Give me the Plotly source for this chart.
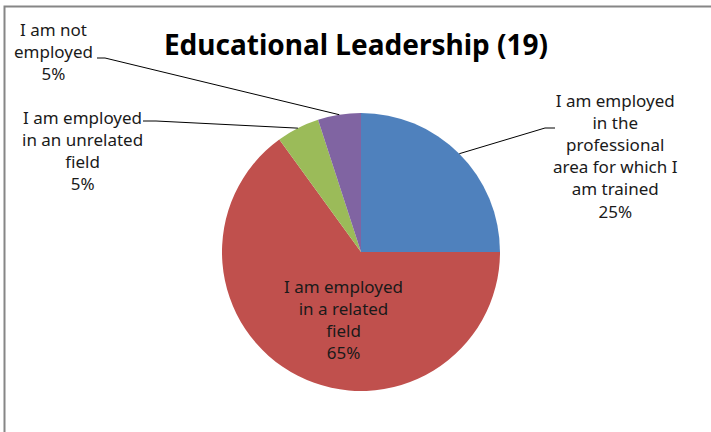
import math
import plotly.graph_objects as go

categories = [
    "I am employed in the professional area for which I am trained",
    "I am employed in a related field",
    "I am employed in an unrelated field",
    "I am not employed",
]
values = [25, 65, 5, 5]
colors = ["#4F81BD", "#C0504D", "#9BBB59", "#8064A2"]
label_texts = [
    "I am employed<br>in the<br>professional<br>area for which I<br>am trained<br>25%",
    "I am employed<br>in a related<br>field<br>65%",
    "I am employed<br>in an unrelated<br>field<br>5%",
    "I am not<br>employed<br>5%",
]
title_text = "Educational Leadership (19)"

W, H = 711, 432
def px(x):
    return x / W
def py(y):
    return 1 - y / H

# pie geometry (pixels)
cx, cy, r = 361, 252, 139

fig = go.Figure(go.Pie(
    labels=categories, values=values, sort=False, direction="clockwise", rotation=0,
    marker=dict(colors=colors, line=dict(width=0)),
    textinfo="none", hoverinfo="label+percent", showlegend=False,
    domain=dict(x=[px(cx - r), px(cx + r)], y=[py(cy + r), py(cy - r)]),
))

font = dict(family="Noto Sans, Open Sans, sans-serif", size=17, color="#1a1a1a")

# label positions (pixel centres) and leader-line elbow points
label_pos = [(615, 156), (343, 319), (82, 151), (53, 52)]
elbows = [[(555, 128), (545, 128)], None, [(143, 121), (156, 121)], [(97, 58), (105, 58)]]

total = sum(values)
cum = 0
shapes = []
annotations = []
for i, v in enumerate(values):
    mid = (cum + v / 2) / total * 2 * math.pi
    cum += v
    ex = cx + r * math.sin(mid)
    ey = cy - r * math.cos(mid)
    lx, ly = label_pos[i]
    annotations.append(dict(x=px(lx), y=py(ly), xref="paper", yref="paper", text=label_texts[i],
                            showarrow=False, font=font, align="center", xanchor="center", yanchor="middle"))
    if elbows[i]:
        (ax0, ay0), (ax1, ay1) = elbows[i]
        path = f"M {px(ax0)},{py(ay0)} L {px(ax1)},{py(ay1)} L {px(ex)},{py(ey)}"
        shapes.append(dict(type="path", path=path, xref="paper", yref="paper",
                           line=dict(color="#000000", width=1)))

shapes.append(dict(type="rect", xref="paper", yref="paper", x0=px(4.5), x1=1.05, y0=-0.05, y1=py(6.5),
                   line=dict(color="#868686", width=2), fillcolor="rgba(0,0,0,0)"))

fig.update_layout(
    width=W, height=H, margin=dict(l=0, r=0, t=0, b=0),
    paper_bgcolor="white", plot_bgcolor="white",
    title=dict(text="<b>" + title_text + "</b>", x=px(356), xanchor="center", y=py(45), yanchor="middle",
               yref="container", font=dict(family="Noto Sans, Open Sans, sans-serif", size=28, color="#000000")),
    shapes=shapes, annotations=annotations,
)

fig.write_html("out.html", config={"displayModeBar": False},
               post_script="document.body.style.margin='0';document.body.style.overflow='hidden';")
